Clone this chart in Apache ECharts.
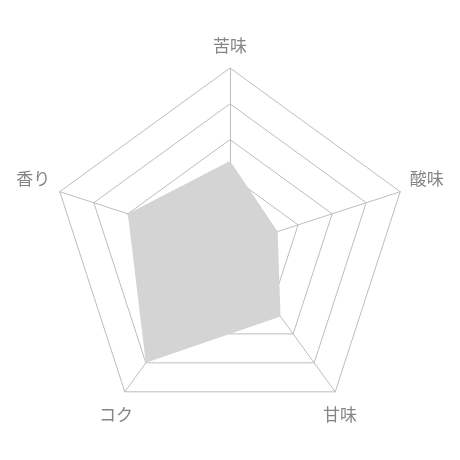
<!DOCTYPE html>
<html>
<head>
<meta charset="utf-8">
<script src="https://cdn.jsdelivr.net/npm/echarts@6/dist/echarts.min.js"></script>
<style>
  html, body { margin: 0; padding: 0; background: #fff; }
  #chart { width: 460px; height: 460px; }
</style>
</head>
<body>
<div id="chart"></div>
<script>
// taste profile, 0..5 scale
// echarts walks counter-clockwise from the top, so: top, left, bottom-left, bottom-right, right
const indicators = ['苦味', '香り', 'コク', '甘味', '酸味'];
const maxValue = 5;
const values = [2.4, 3, 4, 2.4, 1.4];

// nudge each axis name a little, the default spots are not quite where the original puts them
const nameStyle = {
  top:    { padding: [0, 0, 4, 0] },
  left:   { padding: [0, 0, 21, 0] },
  right:  { padding: [0, 0, 21, 0] },
  bl:     { padding: [30, -14, 0, 0] },
  br:     { padding: [30, 0, 0, -18] }
};
const nameSide = { '苦味': 'top', '香り': 'left', '酸味': 'right', 'コク': 'bl', '甘味': 'br' };

let el = document.getElementById('chart');
let inst = echarts.init(el, null, { width: 460, height: 460 });
let option = {
  animation: false,
  radar: {
    center: [230, 247],
    radius: 179,
    startAngle: 90,
    splitNumber: 5,
    shape: 'polygon',
    indicator: indicators.map(n => ({ name: n, max: maxValue, min: 0 })),
    nameGap: 10,
    axisName: {
      color: '#858585',
      fontSize: 17,
      fontFamily: 'Noto Sans CJK JP',
      formatter: name => '{' + nameSide[name] + '|' + name + '}',
      rich: Object.fromEntries(Object.entries(nameStyle).map(([k, s]) => [k, {
        color: '#858585', fontSize: 17, fontFamily: 'Noto Sans CJK JP', padding: s.padding
      }]))
    },
    splitArea: { show: false },
    splitLine: { lineStyle: { color: '#bdbdbd', width: 1 } },
    axisLine: { lineStyle: { color: '#bdbdbd', width: 1 } }
  },
  series: [
    {
      type: 'radar',
      symbol: 'none',
      lineStyle: { width: 0 },
      areaStyle: { color: '#d4d4d4', opacity: 1 },
      data: [{ value: values }]
    }
  ]
};
inst.setOption(option);
</script>
</body>
</html>
